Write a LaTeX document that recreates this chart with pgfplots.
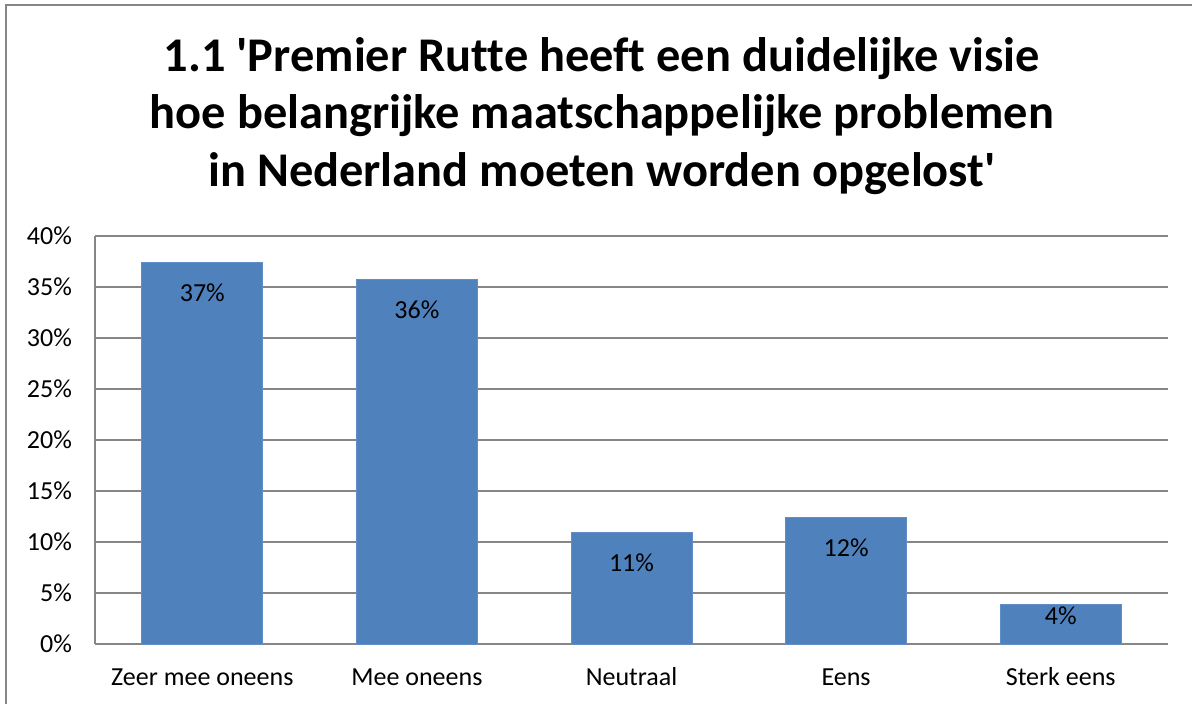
\documentclass[border=0pt]{standalone}
\usepackage{pgfplots}
\pgfplotsset{compat=1.18}
\usepackage{fontspec}
\setmainfont{Carlito}[Ligatures={NoCommon}]
\newfontfamily\titlefont{Carlito}[Ligatures={NoCommon}]
\definecolor{barblue}{HTML}{4F81BD}
\definecolor{gridgray}{HTML}{868686}
\begin{document}
\begin{tikzpicture}
\useasboundingbox (0,0) rectangle (596pt,-352pt);
\draw[gridgray, line width=0.8pt] (3pt,-450pt) -- (3pt,-2.5pt) -- (700pt,-2.5pt);
\node[font=\titlefont\fontsize{24.2}{29}\selectfont\bfseries, anchor=base] at (301pt,-36pt) {1.1 'Premier Rutte heeft een duidelijke visie};
\node[font=\titlefont\fontsize{24.2}{29}\selectfont\bfseries, anchor=base] at (301pt,-64.5pt) {hoe belangrijke maatschappelijke problemen};
\node[font=\titlefont\fontsize{24.2}{29}\selectfont\bfseries, anchor=base] at (301pt,-93.5pt) {in Nederland moeten worden opgelost'};
\begin{axis}[
  at={(47.5pt,-322pt)}, anchor=south west,
  scale only axis, width=536.5pt, height=204pt,
  xmin=-0.5, xmax=4.5, ymin=0, ymax=40,
  xtick=data,
  xticklabels={Zeer mee oneens, Mee oneens, Neutraal, Eens, Sterk eens},
  ytick={0,5,...,40},
  yticklabel={\pgfmathprintnumber{\tick}\%},
  /pgf/number format/assume math mode=true,
  ticklabel style={font=\fontsize{13}{15}\selectfont},
  major tick length=0pt,
  xticklabel style={anchor=base, yshift=-20.5pt},
  yticklabel style={anchor=east, xshift=-8pt},
  axis line style={gridgray, line width=0.8pt},
  axis x line*=bottom, axis y line*=left,
  ymajorgrids, grid style={gridgray, line width=0.8pt},
  tick style={draw=none},
]
\addplot[ybar, bar width=60.5pt, fill=barblue, draw=barblue!90!white,
  point meta=explicit symbolic,
  visualization depends on={y \as \rawy},
  nodes near coords,
  nodes near coords style={anchor=center, font=\fontsize{13}{15}\selectfont, yshift={\rawy<5 ? -6 : -15}}
] coordinates {
  (0,37.4) [37\%]
  (1,35.7) [36\%]
  (2,10.9) [11\%]
  (3,12.4) [12\%]
  (4,3.9) [4\%]
};
\end{axis}
\end{tikzpicture}
\end{document}
